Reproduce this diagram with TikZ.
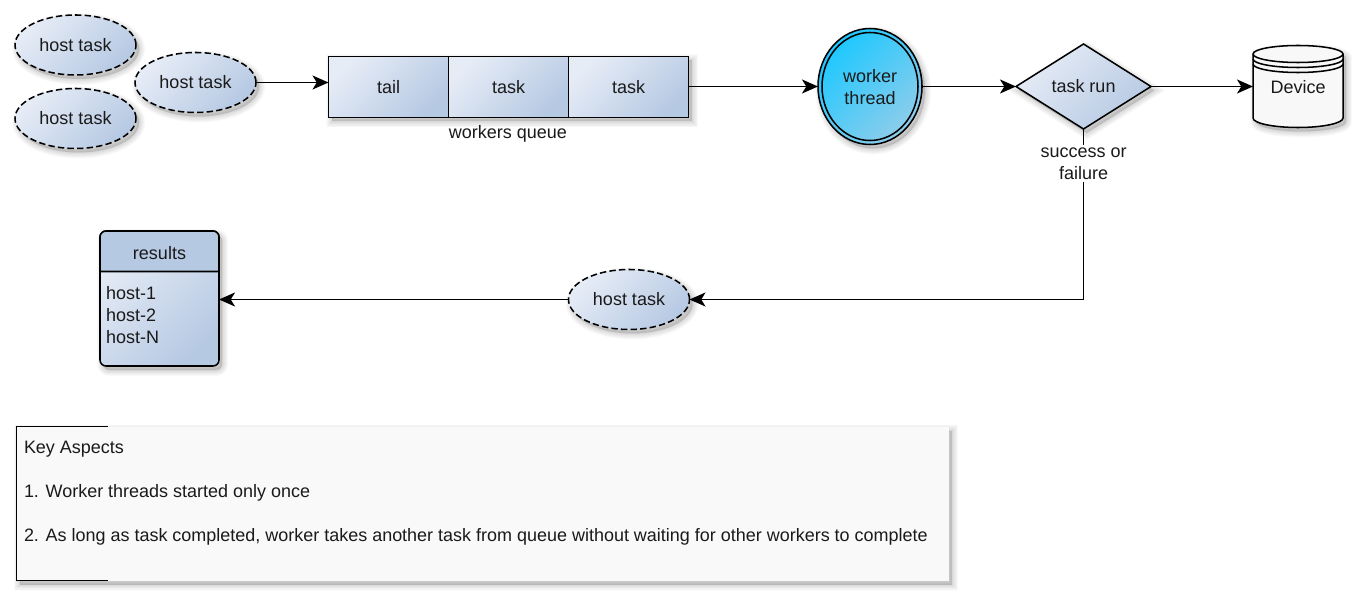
\documentclass[tikz,border=0pt]{standalone}
\usepackage{fontspec}
\setmainfont{Liberation Sans}
\usetikzlibrary{shapes.geometric,shadows,arrows.meta}
\definecolor{lite}{HTML}{E6ECF6}
\definecolor{dark}{HTML}{B6C9E3}
\definecolor{ink}{HTML}{1A1A1A}
\definecolor{wa}{HTML}{1CC8FF}
\definecolor{wb}{HTML}{8FCDEB}
\definecolor{cylf}{HTML}{F8F8F8}
\definecolor{notef}{HTML}{F9F9F9}
\tikzset{
  shadowlayer/.style={general shadow={fill=black,draw=black,solid,line width=#1,fill opacity=.02,draw opacity=.02,shadow xshift=2.4pt,shadow yshift=-3pt}},
  softshadow/.style={shadowlayer=9pt,shadowlayer=7.8pt,shadowlayer=6.6pt,shadowlayer=5.4pt,shadowlayer=4.2pt,shadowlayer=3pt,shadowlayer=1.8pt,shadowlayer=.6pt},
  blueshade/.style={left color=lite,right color=dark,shading angle=45},
  base/.style={draw=black,line width=1.15pt,inner sep=0pt,outer sep=0pt,text=ink,align=center},
  hosttask/.style={base,ellipse,dash pattern=on 4.8pt off 2.4pt,blueshade,softshadow,minimum width=90.75pt,minimum height=45pt},
  cell/.style={base,rectangle,blueshade,minimum width=90pt,minimum height=45.75pt},
  link/.style={draw=black,line width=1.15pt,-{Stealth[length=12pt,width=10.5pt,inset=3.2pt]}},
  plain/.style={draw=black,line width=1.15pt},
  lbl/.style={inner sep=0pt,outer sep=0pt,text=ink,align=center},
  every node/.append style={font=\fontsize{13.5}{16.5}\selectfont}
}
\begin{document}
\begin{tikzpicture}[x=.75pt,y=-.75pt]
\useasboundingbox (0,0) rectangle (1359,595);

% hosts
\node[hosttask] (h1) at (75.5,45) {\raisebox{-.75pt}{host task}};
\node[hosttask] (h2) at (75.5,118.5) {\raisebox{-1.2pt}{host task}};
\node[hosttask] (h3) at (195.5,82.5) {\raisebox{-1.2pt}{host task}};

% queue
\path[softshadow] (329,56.5) rectangle (689,117.5);
\node[cell] (q1) at (388.5,87) {\raisebox{-.6pt}{tail}};
\node[cell] (q2) at (508.5,87) {\raisebox{-.6pt}{task}};
\node[cell] (q3) at (628.5,87) {\raisebox{-.6pt}{task}};
\node[lbl] (ql) at (508,133.5) {workers queue};

% worker
\node[base,ellipse,softshadow,left color=wa,right color=wb,shading angle=45,
      minimum width=78pt,minimum height=87pt] (wk) at (870,86.5) {};
\draw[line width=1.15pt] (wk.center) ellipse [x radius=48,y radius=54];
\node[lbl] (wt) at (870,87) {worker\\[.25pt]thread};

% decision
\node[base,diamond,blueshade,softshadow,minimum width=101.25pt,minimum height=63.75pt,aspect=1.6] (dc) at (1083.5,86.5) {\raisebox{-.6pt}{task run}};
\node[lbl,fill=white,inner ysep=2pt,inner xsep=0pt] (sf) at (1083.5,163.5) {success or\\[.25pt]failure};

% device
\node[inner sep=0pt,outer sep=0pt,minimum width=67.5pt,minimum height=61.5pt] (dv) at (1298,86.5) {};
\path[fill=cylf,softshadow] (dv.west |- 0,54) arc[start angle=180,end angle=360,x radius=45,y radius=8.5]
  -- (dv.east |- 0,118) arc[start angle=0,end angle=180,x radius=45,y radius=9.5] -- cycle;
\draw[plain] (dv.west |- 0,54) arc[start angle=180,end angle=360,x radius=45,y radius=8.5]
  -- (dv.east |- 0,118) arc[start angle=0,end angle=180,x radius=45,y radius=9.5] -- cycle;
\draw[plain] (dv.west |- 0,54) arc[start angle=180,end angle=0,x radius=45,y radius=8.5];
\draw[plain] (dv.west |- 0,59) arc[start angle=180,end angle=0,x radius=45,y radius=8.5];
\draw[plain] (dv.west |- 0,64) arc[start angle=180,end angle=0,x radius=45,y radius=8.5];
\node[lbl] (dt) at (1298,87) {Device};

% return task
\node[hosttask] (ht) at (629,299.5) {\raisebox{-1.5pt}{host task}};

% results
\node[base,rectangle,rounded corners=4.5pt,blueshade,softshadow,minimum width=89.25pt,minimum height=101.25pt] (rs) at (159.5,298.5) {};
\draw[plain,fill=dark] (rs.west |- 0,271.5) [rounded corners=4.5pt] -- (rs.north west) -- (rs.north east) [sharp corners] -- (rs.east |- 0,271.5) -- cycle;
\node[lbl] (rt) at (159.5,253) {results};
\node[lbl,anchor=north west,align=left] (rl) at (106,286.5) {host-1\\host-2\\host-N};

% connectors
\draw[link] (h3.east) -- (h3.east -| q1.west);
\draw[link] (q3.east |- wk.west) -- (wk.west);
\draw[link] (wk.east) -- (dc.west);
\draw[link] (dc.east) -- (dv.west);
\draw[plain] (dc.south) -- (sf.north);
\draw[link] (sf.south) |- (ht.east);
\draw[link] (ht.west) -- (ht.west -| rs.east);

% note
\path[fill=notef,softshadow] (16.5,426.5) rectangle (949,580.5);
\coordinate (nt) at (108,426.5);
\coordinate (nb) at (108,580.5);
\draw[plain] (nt) -- (16.5,426.5) -- (16.5,580.5) -- (nb);
\node[lbl,anchor=north west,align=left,font=\fontsize{13.48}{33}\selectfont] (nk) at (24,441) {Key Aspects\\1. Worker threads started only once\\2. As long as task completed, worker takes another task from queue without waiting for other workers to complete};
\end{tikzpicture}
\end{document}
